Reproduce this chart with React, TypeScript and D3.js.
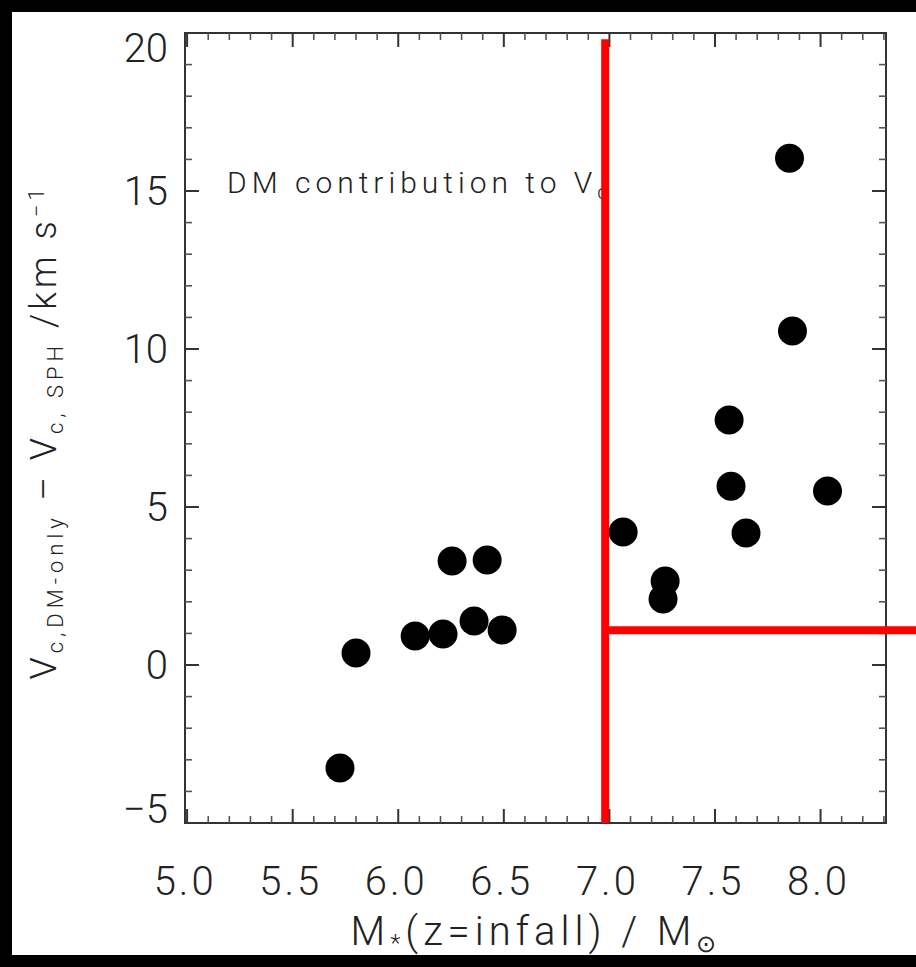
import React from 'react';
import * as d3 from 'd3';

// ---- data ----
const stellarMass = [5.724, 5.8, 6.08, 6.212, 6.255, 6.359, 6.421, 6.492, 7.065, 7.264, 7.254, 7.567, 7.576, 7.647, 7.853, 7.867, 8.033];
const deltaVc = [-3.26, 0.38, 0.92, 0.98, 3.29, 1.39, 3.32, 1.11, 4.21, 2.66, 2.09, 7.75, 5.66, 4.18, 16.04, 10.57, 5.51];

const xTickValues = [5.0, 5.5, 6.0, 6.5, 7.0, 7.5, 8.0];
const xTickLabels = ['5.0', '5.5', '6.0', '6.5', '7.0', '7.5', '8.0'];
const yTickValues = [-5, 0, 5, 10, 15, 20];
const yTickLabels = ['\u22125', '0', '5', '10', '15', '20'];

const massCut = 6.98;
const deltaVCut = 1.1;
const cutTop = 19.8;
const cutRightEnd = 8.5;

const xDomain = [4.99, 8.31];
const yDomain = [-5, 20];

const W = 916;
const H = 967;
const FONT = 'Roboto, "Liberation Sans", sans-serif';
const AX = '#333';

export default function App() {
  const left = 185, right = 886, top = 33, bottom = 823;
  const x = d3.scaleLinear().domain(xDomain).range([left, right]);
  const y = d3.scaleLinear().domain(yDomain).range([bottom, top]);

  const xMinor = d3.range(50, 84).map((i) => i / 10).filter((v) => Math.round(v * 10) % 5 !== 0);
  const yMinor = d3.range(-5, 21).filter((v) => v % 5 !== 0);
  const majLen = 14, minLen = 7;
  const tickFs = 40;

  return (
    <svg width={W} height={H} style={{ position: 'fixed', left: 0, top: 0 }} fontFamily={FONT}>
      <rect x={0} y={0} width={W} height={H} fill="#000" />
      <rect x={12} y={12} width={W - 12} height={943} fill="#fff" />

      {/* frame */}
      <rect x={left} y={top} width={right - left} height={bottom - top} fill="none" stroke={AX} strokeWidth={2} />

      {/* x ticks */}
      {xTickValues.map((v) => (
        <g key={'xM' + v} stroke={AX} strokeWidth={2}>
          <line x1={x(v)} x2={x(v)} y1={bottom} y2={bottom - majLen} />
          <line x1={x(v)} x2={x(v)} y1={top} y2={top + majLen} />
        </g>
      ))}
      {xMinor.map((v) => (
        <g key={'xm' + v} stroke="#555" strokeWidth={1.6}>
          <line x1={x(v)} x2={x(v)} y1={bottom} y2={bottom - minLen} />
          <line x1={x(v)} x2={x(v)} y1={top} y2={top + minLen} />
        </g>
      ))}
      {/* y ticks */}
      {yTickValues.map((v) => (
        <g key={'yM' + v} stroke={AX} strokeWidth={2}>
          <line x1={left} x2={left + majLen} y1={y(v)} y2={y(v)} />
          <line x1={right} x2={right - majLen} y1={y(v)} y2={y(v)} />
        </g>
      ))}
      {yMinor.map((v) => (
        <g key={'ym' + v} stroke="#555" strokeWidth={1.6}>
          <line x1={left} x2={left + minLen} y1={y(v)} y2={y(v)} />
          <line x1={right} x2={right - minLen} y1={y(v)} y2={y(v)} />
        </g>
      ))}

      {/* tick labels */}
      {yTickValues.map((v, i) => {
        const c = Math.min(Math.max(y(v), top + 15), bottom - 14);
        return (
          <text key={'yl' + v} x={168} y={c + 0.355 * tickFs} textAnchor="end" fontSize={tickFs} fontWeight={300} fill="#222">
            {yTickLabels[i]}
          </text>
        );
      })}
      {xTickValues.map((v, i) => (
        <text key={'xl' + v} x={x(v) - 2} y={895} textAnchor="middle" fontSize={tickFs} fontWeight={300} fill="#222" letterSpacing={3}>
          {xTickLabels[i]}
        </text>
      ))}

      {/* axis titles */}
      <text x={536} y={945} textAnchor="middle" fontSize={40} fontWeight={300} fill="#222" letterSpacing={5}>
        M<tspan fontSize={24} dy={6}>*</tspan>
        <tspan dy={-6}>(z=infall) / M</tspan>
        <tspan fontSize={24} dy={7}>{'\u2299'}</tspan>
      </text>
      <text transform="translate(56,432) rotate(-90)" textAnchor="middle" fontSize={36} fontWeight={300} fill="#222" letterSpacing={4}>
        V<tspan fontSize={22} dy={7} letterSpacing={5}>c,DM-only</tspan>
        <tspan dy={-7}>{'  \u2013  V'}</tspan>
        <tspan fontSize={22} dy={7} letterSpacing={5}>c, SPH</tspan>
        <tspan dy={-7}>{' /km s'}</tspan>
        <tspan fontSize={22} dy={-12}>{'\u22121'}</tspan>
      </text>

      {/* annotation */}
      <text x={227} y={193} fontSize={30} fontWeight={300} fill="#222" letterSpacing={5}>
        DM contribution to V<tspan fontSize={20} dy={6}>c</tspan>
      </text>

      {/* points */}
      {stellarMass.map((m, i) => (
        <circle key={'p' + i} cx={x(m)} cy={y(deltaVc[i])} r={14.5} fill="#000" />
      ))}

      {/* red cut lines */}
      <line x1={x(massCut)} x2={x(massCut)} y1={y(yDomain[0])} y2={y(cutTop)} stroke="#ff0000" strokeWidth={8} />
      <line x1={x(massCut)} x2={x(cutRightEnd)} y1={y(deltaVCut)} y2={y(deltaVCut)} stroke="#ff0000" strokeWidth={8} />
    </svg>
  );
}
